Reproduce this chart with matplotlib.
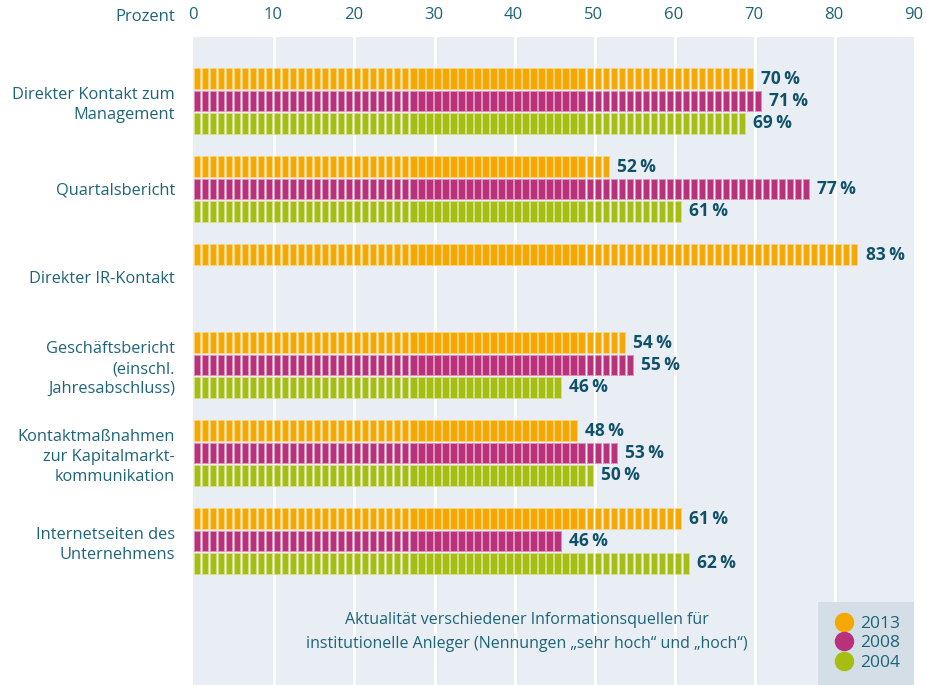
import numpy as np
import matplotlib
matplotlib.use("Agg")
import matplotlib.pyplot as plt
from matplotlib.lines import Line2D

categories = [
    "Direkter Kontakt zum\nManagement",
    "Quartalsbericht",
    "Direkter IR-Kontakt",
    "Geschäftsbericht\n(einschl.\nJahresabschluss)",
    "Kontaktmaßnahmen\nzur Kapitalmarkt-\nkommunikation",
    "Internetseiten des\nUnternehmens",
]
years = ["2013", "2008", "2004"]
values_2013 = [70, 52, 83, 54, 48, 61]
values_2008 = [71, 77, None, 55, 53, 46]
values_2004 = [69, 61, None, 46, 50, 62]
xticks = [0, 10, 20, 30, 40, 50, 60, 70, 80, 90]

colors = ["#f5a800", "#b8317a", "#a6bd12"]
edge_colors = ["#fbd27a", "#dd92b8", "#d2df8a"]
text_color = "#1e6479"
value_color = "#0f5168"
bg_color = "#e8eef3"

plt.rcParams["font.family"] = ["Open Sans", "DejaVu Sans"]

fig = plt.figure(figsize=(9.27, 6.85), dpi=100)
ax = fig.add_axes([193 / 927, 0, (914 - 193) / 927, (685 - 37) / 685])
ax.set_facecolor(bg_color)
ax.set_xlim(0, 90)
ax.set_ylim(5 + 1.636, -0.727)
for s in ax.spines.values():
    s.set_visible(False)

# white grid lines behind the bars
for x in xticks[1:-1]:
    ax.axvline(x + 0.15, color="white", lw=2.2, zorder=1)

offsets = [-0.255, 0.0, 0.255]
series = [values_2013, values_2008, values_2004]
for k, vals in enumerate(series):
    for i, v in enumerate(vals):
        if v is None:
            continue
        y = i + offsets[k]
        # one small block per percent point
        lefts = np.arange(v) + 0.12
        ax.barh([y] * v, [0.78] * v, left=lefts, height=0.23,
                color=colors[k], edgecolor=edge_colors[k], linewidth=0.7, zorder=2)
        ax.text(v + 0.95, y, f"{v}\u2009%", ha="left", va="center",
                fontsize=12.5, fontweight="bold", color=value_color, zorder=3)

ax.set_yticks(range(len(categories)))
ax.set_yticklabels(categories, fontsize=11.8, color=text_color, linespacing=1.35)
ax.tick_params(axis="y", length=0, pad=13)
ax.xaxis.tick_top()
ax.set_xticks(xticks)
ax.set_xticklabels([str(t) for t in xticks], fontsize=12, color=text_color)
ax.tick_params(axis="x", length=0, pad=10)
fig.text(175 / 927, 1 - 17 / 685, "Prozent", ha="right", va="center",
         fontsize=12, color=text_color)

fig.text(527 / 927, 1 - 632 / 685,
         "Aktualität verschiedener Informationsquellen für\n"
         "institutionelle Anleger (Nennungen „sehr hoch“ und „hoch“)",
         ha="center", va="center", fontsize=11.5, color=text_color, linespacing=1.6)

handles = [Line2D([], [], marker="o", ls="none", markersize=13,
                  markerfacecolor=c, markeredgecolor=c) for c in colors]
leg = ax.legend(handles, years, loc="lower right", bbox_to_anchor=(1.0, 0.0),
                borderaxespad=0, frameon=True, fancybox=False, framealpha=1,
                facecolor="#d3dee6", edgecolor="none", fontsize=12.5,
                handletextpad=0.3, labelspacing=0.2, borderpad=0.8,
                handlelength=1.3)
for t in leg.get_texts():
    t.set_color(text_color)

fig.savefig("out.png", dpi=100)
